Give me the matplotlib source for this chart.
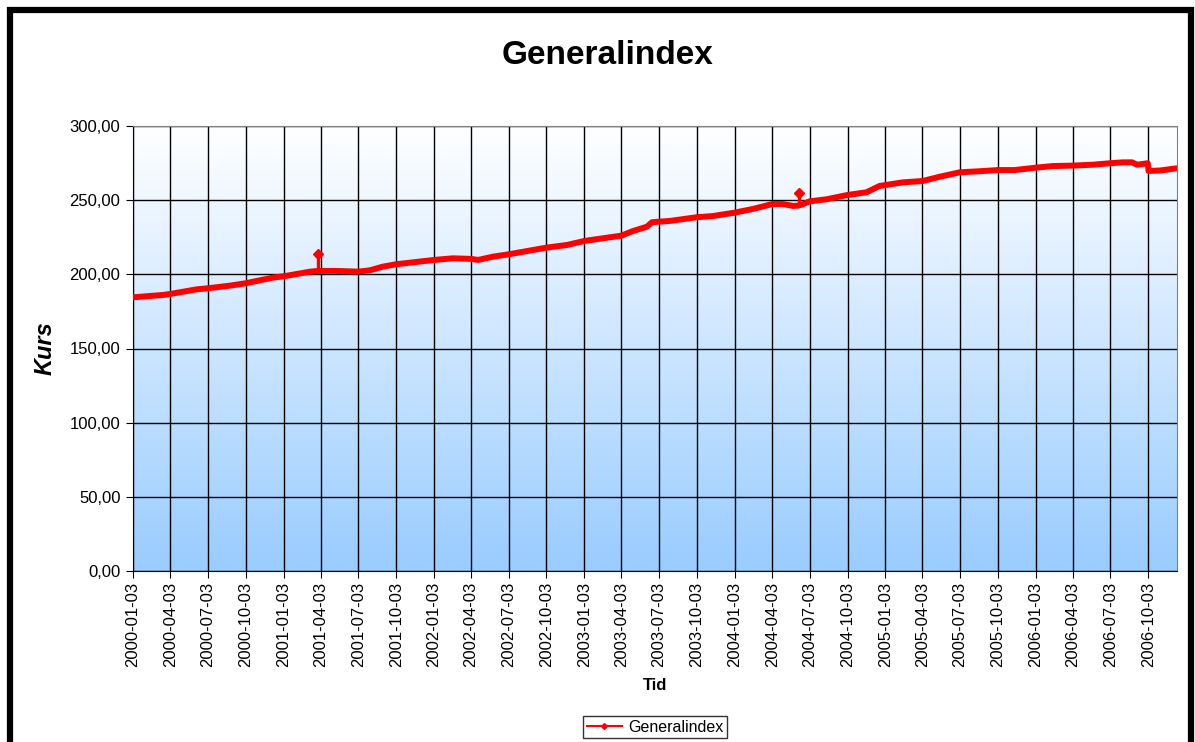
import numpy as np
import pandas as pd
import matplotlib
matplotlib.use('Agg')
import matplotlib.pyplot as plt
import matplotlib.dates as mdates
import matplotlib.patches as mpatches
from matplotlib.lines import Line2D
from matplotlib.colors import LinearSegmentedColormap
from matplotlib.ticker import FuncFormatter, MultipleLocator

plt.rcParams['font.family'] = ['Liberation Sans', 'DejaVu Sans']

# (ungefärliga värden)
dates = ['2000-01-03', '2000-03-16', '2000-04-03', '2000-06-06', '2000-07-03',
         '2000-08-26', '2000-10-03', '2000-12-08', '2001-01-03', '2001-03-08',
         '2001-03-27', '2001-04-03', '2001-05-12',
         '2001-07-03', '2001-07-31', '2001-09-01', '2001-10-03', '2002-01-03',
         '2002-02-18', '2002-04-03', '2002-04-20', '2002-05-26', '2002-07-03',
         '2002-08-17', '2002-10-03', '2002-11-22', '2003-01-03', '2003-02-17',
         '2003-04-03', '2003-05-01', '2003-06-04', '2003-06-16', '2003-07-03',
         '2003-07-30', '2003-10-03', '2003-11-11', '2004-01-03', '2004-02-17',
         '2004-04-03', '2004-04-29', '2004-05-24', '2004-06-04',
         '2004-06-14', '2004-07-03', '2004-08-13', '2004-10-03',
         '2004-11-18', '2004-12-20', '2005-01-03', '2005-02-14', '2005-04-03',
         '2005-05-15', '2005-07-03', '2005-08-20', '2005-10-03', '2005-11-13',
         '2006-01-03', '2006-02-13', '2006-04-03', '2006-05-21', '2006-07-03',
         '2006-08-02', '2006-08-25', '2006-09-06', '2006-10-02', '2006-10-04',
         '2006-11-01', '2006-12-12']
kurs = [184.5, 186.1, 186.8, 189.9, 190.6,
        192.4, 194.0, 197.8, 198.7, 201.8,
        202.3, 202.3, 202.3,
        201.8, 202.7, 205.2, 206.8, 209.7,
        210.8, 210.4, 209.7, 211.9, 213.5,
        215.7, 218.0, 219.8, 222.5, 224.3,
        226.1, 229.2, 232.1, 235.1, 235.5,
        236.0, 238.5, 239.3, 241.6, 244.1,
        247.4, 247.4, 246.1, 246.3,
        247.0, 249.2, 250.6, 253.5,
        255.3, 259.6, 260.2, 262.0, 262.9,
        265.8, 268.8, 269.5, 270.3, 270.3,
        271.9, 273.0, 273.3, 273.9, 274.9,
        275.5, 275.5, 273.9, 274.9, 269.7,
        270.0, 271.5]

# enstaka toppar (endagsvärden)
spike_dates = ['2001-03-27', '2004-06-08']
spike_base = [202.3, 246.8]
spike_top = [213.7, 254.6]

tick_dates = ['2000-01-03', '2000-04-03', '2000-07-03', '2000-10-03',
              '2001-01-03', '2001-04-03', '2001-07-03', '2001-10-03',
              '2002-01-03', '2002-04-03', '2002-07-03', '2002-10-03',
              '2003-01-03', '2003-04-03', '2003-07-03', '2003-10-03',
              '2004-01-03', '2004-04-03', '2004-07-03', '2004-10-03',
              '2005-01-03', '2005-04-03', '2005-07-03', '2005-10-03',
              '2006-01-03', '2006-04-03', '2006-07-03', '2006-10-03']

x = pd.to_datetime(dates)
ticks = mdates.date2num(pd.to_datetime(tick_dates).to_pydatetime())

W, H = 1195, 742
fig = plt.figure(figsize=(W / 100, H / 100), dpi=100)
ax = fig.add_axes([133 / W, 1 - 571 / H, (1177 - 133) / W, (571 - 126) / H])

# bakgrund: vit upptill -> ljusblå nedtill
cmap = LinearSegmentedColormap.from_list('bg', ['#ffffff', '#99ccff'])
grad = np.linspace(0, 1, 256).reshape(-1, 1)
ax.imshow(grad, cmap=cmap, aspect='auto', extent=[0, 1, 0, 1],
          transform=ax.transAxes, zorder=0, interpolation='bicubic')

ax.plot(x, kurs, color='#ff0000', lw=4.3, solid_joinstyle='round', zorder=3)

sx = pd.to_datetime(spike_dates)
ax.vlines(sx, spike_base, spike_top, color='#ff0000', lw=2.4, zorder=3)
ax.plot(sx, spike_top, ls='none', marker='D', markersize=5,
        color='#ff0000', zorder=4)

xmin = mdates.date2num(pd.Timestamp('2000-01-03'))
xmax = mdates.date2num(pd.Timestamp('2006-12-12'))
ax.set_xlim(xmin, xmax)
ax.set_ylim(0, 300)

ax.set_xticks(ticks)
ax.xaxis.set_major_formatter(mdates.DateFormatter('%Y-%m-%d'))
ax.yaxis.set_major_locator(MultipleLocator(50))
ax.yaxis.set_major_formatter(FuncFormatter(lambda v, p: f'{v:.2f}'.replace('.', ',')))
ax.tick_params(axis='x', labelrotation=90, labelsize=12, length=5, direction='out', pad=3)
ax.tick_params(axis='y', labelsize=12, length=5, direction='out', pad=4)

ax.grid(True, color='black', lw=1, zorder=1)
ax.set_axisbelow(True)

for side in ['top', 'right']:
    ax.spines[side].set_color('#808080')
ax.spines['left'].set_color('black')
ax.spines['bottom'].set_color('black')

fig.text(608 / W, 1 - 55 / H, 'Generalindex', ha='center', va='center',
         fontsize=24, fontweight='bold')
fig.text(45 / W, 1 - 348 / H, 'Kurs', ha='center', va='center', rotation=90,
         fontsize=17, fontweight='bold', fontstyle='italic')
fig.text(655 / W, 1 - 686 / H, 'Tid', ha='center', va='center',
         fontsize=12, fontweight='bold')

handle = Line2D([], [], color='#ff0000', lw=1.5, marker='D', markersize=3)
leg = fig.legend(handles=[handle], labels=['Generalindex'], loc='center',
                 bbox_to_anchor=(655 / W, 1 - 727 / H), fontsize=11.5,
                 frameon=True, fancybox=False, edgecolor='black',
                 handlelength=2.2, borderpad=0.25, handletextpad=0.4)
leg.get_frame().set_linewidth(1)

# ram runt hela diagrammet
border = mpatches.Rectangle((10 / W, -0.1), (1191 - 10) / W, 1.1 - 10.5 / H,
                            transform=fig.transFigure, fill=False,
                            edgecolor='black', lw=4.5)
fig.patches.append(border)

fig.savefig('out.png', dpi=100)
